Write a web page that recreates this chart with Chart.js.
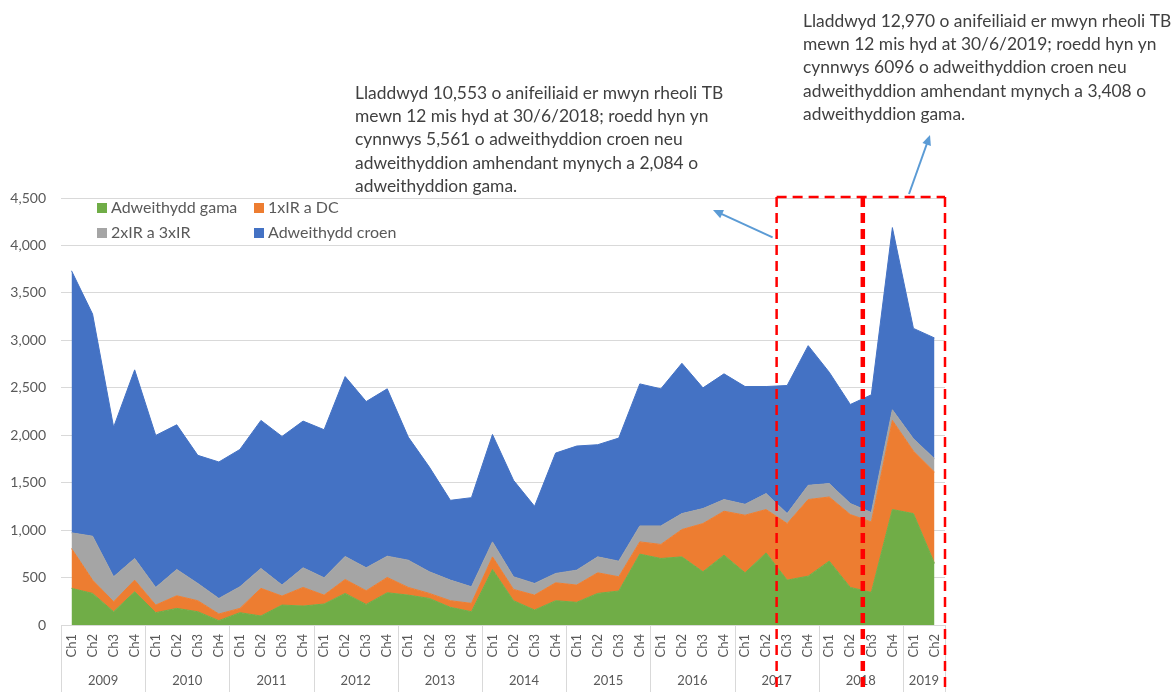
<!DOCTYPE html>
<html>
<head>
<meta charset="utf-8">
<script src="https://cdn.jsdelivr.net/npm/chart.js@4/dist/chart.umd.min.js"></script>
<style>
  html, body { margin: 0; padding: 0; background: #fff; }
  #wrap { width: 1176px; height: 692px; position: relative; }
</style>
</head>
<body>
<div id="wrap"><canvas id="tbChart" width="1176" height="692"></canvas></div>
<script>
// Anifeiliaid a laddwyd i reoli TB, fesul chwarter 2009 Ch1 - 2019 Ch2

const years = ['2009', '2010', '2011', '2012', '2013', '2014', '2015', '2016', '2017', '2018', '2019'];
const quartersPerYear = [4, 4, 4, 4, 4, 4, 4, 4, 4, 4, 2];

const quarterLabels = [
    'Ch1', 'Ch2', 'Ch3', 'Ch4', 'Ch1', 'Ch2', 'Ch3', 'Ch4', 'Ch1', 'Ch2', 'Ch3', 'Ch4',
    'Ch1', 'Ch2', 'Ch3', 'Ch4', 'Ch1', 'Ch2', 'Ch3', 'Ch4', 'Ch1', 'Ch2', 'Ch3', 'Ch4',
    'Ch1', 'Ch2', 'Ch3', 'Ch4', 'Ch1', 'Ch2', 'Ch3', 'Ch4', 'Ch1', 'Ch2', 'Ch3', 'Ch4',
    'Ch1', 'Ch2', 'Ch3', 'Ch4', 'Ch1', 'Ch2'
];

const gama = [386, 333, 140, 350, 130, 175, 140, 46, 130, 95, 210, 200, 221, 333, 217, 340, 315, 280, 186, 140,
    585, 256, 158, 256, 239, 333, 358, 747, 701, 718, 561, 736, 550, 760, 473, 515, 673, 396, 344, 1217, 1174, 649];
const ir1DC = [420, 140, 105, 123, 80, 133, 116, 70, 45, 291, 95, 196, 94, 147, 144, 161, 81, 53, 70, 88,
    133, 119, 157, 189, 182, 217, 150, 129, 148, 288, 508, 463, 607, 457, 596, 807, 676, 768, 742, 939, 659, 963];
const ir2ir3 = [165, 463, 263, 228, 186, 277, 182, 164, 228, 210, 116, 207, 183, 242, 242, 224, 287, 228, 217, 175,
    158, 133, 123, 98, 157, 168, 165, 168, 195, 168, 158, 123, 115, 168, 105, 150, 141, 116, 99, 112, 130, 141];
const croen = [2762, 2341, 1577, 1988, 1602, 1525, 1350, 1438, 1447, 1560, 1566, 1546, 1560, 1896, 1752, 1764, 1297, 1104, 841, 939,
    1132, 1017, 813, 1269, 1308, 1182, 1297, 1497, 1445, 1584, 1272, 1325, 1241, 1128, 1350, 1472, 1174, 1044, 1241, 1920, 1163, 1272];

const seriesNames = ['Adweithydd gama', '1xIR a DC', '2xIR a 3xIR', 'Adweithydd croen'];
const seriesColors = ['#70AD47', '#ED7D31', '#A5A5A5', '#4472C4'];

// 12-month windows highlighted with red dashed boxes (first quarter index of each)
const boxStarts = [34, 38];

const note2018 = [
    'Lladdwyd 10,553 o anifeiliaid er mwyn rheoli TB',
    'mewn 12 mis hyd at 30/6/2018; roedd hyn yn',
    'cynnwys 5,561 o adweithyddion croen neu',
    'adweithyddion amhendant mynych a 2,084 o',
    'adweithyddion gama.'
];
const note2019 = [
    'Lladdwyd 12,970 o anifeiliaid er mwyn rheoli TB',
    'mewn 12 mis hyd at 30/6/2019; roedd hyn yn',
    'cynnwys 6096 o adweithyddion croen neu',
    'adweithyddion amhendant mynych a 3,408 o',
    'adweithyddion gama.'
];

const FONT = 'Lato, "Noto Sans", sans-serif';
const TEXT_GREY = '#595959';

// Year labels + separators under the quarter ticks
const yearAxisPlugin = {
    id: 'yearAxis',
    afterDraw(chart) {
        const { ctx, chartArea, scales: { x } } = chart;
        const bottom = chart.height;
        ctx.save();
        ctx.strokeStyle = '#D9D9D9';
        ctx.lineWidth = 1;
        ctx.fillStyle = TEXT_GREY;
        ctx.font = '13px ' + FONT;
        ctx.textAlign = 'center';
        ctx.textBaseline = 'middle';
        let start = 0;
        years.forEach((yr, i) => {
            const end = start + quartersPerYear[i] - 1;
            const left = start === 0 ? chartArea.left : (x.getPixelForValue(start - 1) + x.getPixelForValue(start)) / 2;
            ctx.beginPath();
            ctx.moveTo(Math.round(left) + 0.5, chartArea.bottom);
            ctx.lineTo(Math.round(left) + 0.5, bottom);
            ctx.stroke();
            const cx = (x.getPixelForValue(start) + x.getPixelForValue(end)) / 2;
            ctx.fillText(yr, cx, chartArea.bottom + 56);
            start = end + 1;
        });
        ctx.beginPath();
        ctx.moveTo(Math.round(chartArea.right) + 0.5, chartArea.bottom);
        ctx.lineTo(Math.round(chartArea.right) + 0.5, bottom);
        ctx.stroke();
        ctx.restore();
    }
};

// Legend drawn inside the plot, two columns
const innerLegendPlugin = {
    id: 'innerLegend',
    afterDraw(chart) {
        const { ctx, chartArea } = chart;
        ctx.save();
        ctx.font = '16px ' + FONT;
        ctx.textBaseline = 'middle';
        ctx.textAlign = 'left';
        chart.data.datasets.forEach((ds, i) => {
            const col = i % 2;
            const row = Math.floor(i / 2);
            const bx = chartArea.left + 36 + col * 157;
            const by = chartArea.top + 10 + row * 25;
            ctx.fillStyle = ds.backgroundColor;
            ctx.fillRect(bx, by - 5, 10, 10);
            ctx.fillStyle = TEXT_GREY;
            ctx.fillText(ds.label, bx + 14, by);
        });
        ctx.restore();
    }
};

function drawArrow(ctx, x1, y1, x2, y2) {
    const ang = Math.atan2(y2 - y1, x2 - x1);
    const len = 10, wid = 4.5;
    ctx.beginPath();
    ctx.moveTo(x1, y1);
    ctx.lineTo(x2 - Math.cos(ang) * len * 0.8, y2 - Math.sin(ang) * len * 0.8);
    ctx.stroke();
    ctx.beginPath();
    ctx.moveTo(x2, y2);
    ctx.lineTo(x2 - Math.cos(ang) * len - Math.sin(ang) * wid, y2 - Math.sin(ang) * len + Math.cos(ang) * wid);
    ctx.lineTo(x2 - Math.cos(ang) * len + Math.sin(ang) * wid, y2 - Math.sin(ang) * len - Math.cos(ang) * wid);
    ctx.closePath();
    ctx.fill();
}

// Red dashed boxes, notes and arrows
const notesPlugin = {
    id: 'notes',
    afterDraw(chart) {
        const { ctx, chartArea, scales: { x, y } } = chart;
        const edge = i => (x.getPixelForValue(i - 1) + x.getPixelForValue(i)) / 2;
        const left = edge(boxStarts[0]);
        const mid = edge(boxStarts[1]) + 2;
        const right = chartArea.right;
        const top = y.getPixelForValue(4500) - 1;
        const bottom = chart.height;

        ctx.save();
        ctx.strokeStyle = '#FF0000';
        ctx.setLineDash([10, 6]);
        ctx.lineWidth = 2.5;
        ctx.beginPath();
        ctx.moveTo(left, top); ctx.lineTo(right, top);
        ctx.moveTo(left, top); ctx.lineTo(left, bottom);
        ctx.moveTo(right, top); ctx.lineTo(right, bottom);
        ctx.stroke();
        ctx.lineWidth = 4.5;
        ctx.beginPath();
        ctx.moveTo(mid, top); ctx.lineTo(mid, bottom);
        ctx.stroke();
        ctx.setLineDash([]);

        ctx.strokeStyle = '#5B9BD5';
        ctx.fillStyle = '#5B9BD5';
        ctx.lineWidth = 2;
        drawArrow(ctx, left - 4, y.getPixelForValue(4000) - 8, 713, 210);
        drawArrow(ctx, 909, top - 3, 930, 135);

        ctx.fillStyle = '#404040';
        ctx.font = '17.4px ' + FONT;
        ctx.textAlign = 'left';
        ctx.textBaseline = 'middle';
        note2018.forEach((line, i) => ctx.fillText(line, 355, 93 + i * 23.3));
        note2019.forEach((line, i) => ctx.fillText(line, 803, 21 + i * 23.3));
        ctx.restore();
    }
};

const seriesData = [gama, ir1DC, ir2ir3, croen];

const config = {
    type: 'line',
    data: {
        labels: quarterLabels,
        datasets: seriesData.map((vals, i) => ({
            label: seriesNames[i],
            data: vals,
            backgroundColor: seriesColors[i],
            borderColor: seriesColors[i],
            borderWidth: 1,
            fill: i === 0 ? 'origin' : '-1',
            pointRadius: 0,
            tension: 0
        }))
    },
    options: {
        responsive: false,
        animation: false,
        layout: { padding: { top: 198, right: 231, left: 0, bottom: 0 } },
        plugins: {
            legend: { display: false },
            tooltip: { enabled: false }
        },
        scales: {
            x: {
                offset: true,
                grid: { display: false, drawTicks: false },
                border: { color: '#D9D9D9' },
                ticks: {
                    autoSkip: false,
                    minRotation: 90,
                    maxRotation: 90,
                    padding: 9,
                    color: TEXT_GREY,
                    font: { family: FONT, size: 13 }
                },
                afterFit: scale => { scale.height = 67; }
            },
            y: {
                stacked: true,
                min: 0,
                max: 4500,
                grid: { color: '#D9D9D9', drawTicks: false },
                border: { display: false },
                ticks: {
                    stepSize: 500,
                    padding: 15,
                    color: TEXT_GREY,
                    font: { family: FONT, size: 14 },
                    callback: v => v.toLocaleString('en-US')
                },
                afterFit: scale => { scale.width = 61; }
            }
        }
    },
    plugins: [yearAxisPlugin, innerLegendPlugin, notesPlugin]
};

new Chart(document.getElementById('tbChart').getContext('2d'), config);
</script>
</body>
</html>
